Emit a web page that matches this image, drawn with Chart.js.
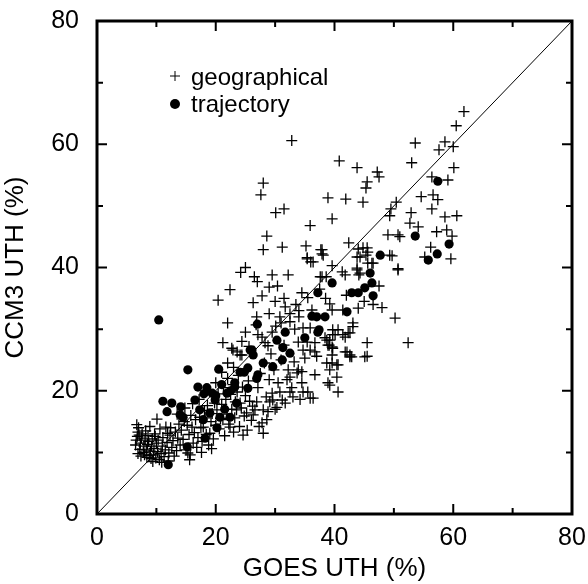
<!DOCTYPE html>
<html>
<head>
<meta charset="utf-8">
<script src="https://cdn.jsdelivr.net/npm/chart.js@4.4.1/dist/chart.umd.min.js"></script>
<style>
html,body{margin:0;padding:0;background:#fff;}
#wrap{width:588px;height:584px;}
</style>
</head>
<body>
<div id="wrap"><canvas id="c" width="588" height="584"></canvas></div>
<script>
// ---- data (GOES UTH %, CCM3 UTH %) ----
const seriesNames = ["geographical", "trajectory"];
const axisTicks = [0, 20, 40, 60, 80];
const minorTicks = [10, 30, 50, 70];
const xTitle = "GOES UTH (%)";
const yTitle = "CCM3 UTH (%)";
const oneToOne = [[0, 0], [80, 80]];

const geographical = [
[6.5,11.2],[6.6,12.0],[6.8,12.6],[6.9,13.3],[7.0,14.0],[6.7,14.5],[7.2,10.5],[7.3,11.5],[7.5,12.3],[7.6,13.0],
[7.8,10.0],[7.9,11.0],[8.0,9.6],[8.1,12.0],[8.3,10.4],[8.4,9.2],[8.5,11.3],[8.6,12.7],[8.8,9.5],[9.0,10.2],
[9.1,9.0],[9.2,11.0],[9.3,12.2],[9.5,9.6],[9.6,10.6],[9.7,13.0],[9.9,9.1],[10.0,11.5],[10.1,15.4],[10.2,10.1],
[10.3,12.0],[10.5,8.8],[10.6,13.8],[10.8,9.8],[11.0,11.0],[11.1,12.4],[11.3,9.3],[11.5,10.4],[11.6,14.1],[11.8,11.6],
[12.0,8.6],[12.1,9.9],[12.3,12.8],[12.4,14.0],[12.6,10.8],[12.8,11.9],[13.0,9.4],[13.2,13.3],[13.4,10.3],[13.6,12.3],
[7.4,9.4],[8.2,13.5],[8.9,14.2],[6.9,9.8],[9.4,8.5],[10.9,8.4],[11.9,13.1],[7.1,12.8],[8.7,11.8],[9.8,12.6],
[13.8,14.6],[14.0,11.2],[14.2,13.6],[14.5,12.1],[14.7,15.0],[15.0,10.4],[15.2,14.4],[15.3,9.9],[15.5,12.9],[15.7,9.6],
[15.8,16.0],[16.0,14.1],[16.2,11.5],[16.4,13.2],[16.6,15.3],[16.8,10.8],[17.0,12.4],[17.3,15.7],[17.5,14.0],[17.7,11.8],
[17.9,14.1],[18.1,16.8],[18.2,15.6],[18.4,12.9],[18.6,17.6],[18.8,11.2],[19.0,13.1],[19.2,15.0],[19.4,16.3],[19.6,12.2],
[19.8,18.0],[20.0,14.4],[13.5,16.2],[14.8,17.2],[16.1,17.9],[17.2,18.6],[15.6,8.8],[17.6,10.0],[19.3,10.6],
[20.2,16.9],[20.4,19.5],[20.6,13.8],[20.8,15.5],[21.0,17.8],[21.2,15.3],[21.3,20.5],[21.5,12.7],[21.7,18.6],[21.9,16.2],
[22.0,22.0],[22.2,14.6],[22.4,14.1],[22.5,19.4],[22.7,17.0],[22.9,21.0],[23.0,13.3],[23.2,15.6],[23.3,18.2],[23.5,16.9],
[23.6,19.8],[23.8,22.5],[24.0,14.2],[24.1,18.0],[24.3,17.2],[24.5,20.6],[24.6,12.8],[24.8,15.9],[25.0,19.2],[25.2,16.4],
[25.3,13.6],[25.5,21.6],[25.7,18.3],[26.0,15.2],[26.2,17.5],[26.3,16.1],[20.0,21.3],[21.0,23.0],[22.0,24.5],[23.0,23.8],
[24.1,25.8],[24.4,25.8],[23.6,26.3],[22.7,26.9],[22.9,26.6],[21.2,27.8],[22.0,31.0],[24.4,28.0],[25.0,29.5],[26.3,34.3],
[26.9,32.0],[26.8,30.7],[25.6,27.2],
[26.6,16.9],[26.9,18.2],[27.1,20.5],[27.3,14.2],[27.5,22.8],[27.8,14.8],[28.0,16.9],[28.0,13.1],[28.2,24.5],[28.5,19.0],
[28.6,15.3],[28.8,16.6],[29.0,21.8],[29.1,18.2],[29.3,26.0],[29.5,19.6],[29.6,18.5],[29.8,23.4],[30.0,17.0],[30.3,17.3],
[30.5,21.3],[30.8,19.8],[31.0,25.0],[31.2,18.5],[31.5,27.4],[31.7,18.0],[32.0,21.8],[32.2,23.4],[32.5,22.2],[32.5,19.8],
[32.8,20.5],[33.0,19.0],[33.2,24.7],[33.7,22.9],[33.9,23.4],[34.2,18.6],[34.5,23.1],[34.5,21.3],[34.7,19.8],[34.7,26.6],
[35.0,25.3],[27.1,29.1],[27.8,28.7],[28.3,27.8],[28.8,27.3],[29.5,29.5],[30.1,30.5],[30.8,32.0],[31.7,33.6],[32.5,31.2],
[33.3,30.0],[33.9,27.9],[34.0,33.0],[27.0,37.7],[27.8,35.4],[26.5,38.5],[29.0,36.8],[30.4,37.0],[25.0,40.0],[24.2,39.2],
[22.4,36.4],[20.4,34.7],[30.0,34.5],[31.5,35.0],[32.5,32.5],[33.5,34.0],[29.0,32.5],[31.0,31.0],[34.0,32.0],
[35.9,26.6],[36.7,26.3],[38.9,27.4],[39.6,27.1],[38.7,24.5],[40.4,24.2],[40.4,22.2],[38.9,21.3],[40.6,19.8],[36.7,22.6],
[35.5,19.8],[35.9,18.8],[36.4,18.8],[37.0,25.6],[39.2,23.4],[39.6,24.5],[39.6,25.8],[40.6,24.2],[39.2,20.9],[42.1,26.3],
[42.6,25.5],[42.9,25.5],[45.1,25.5],[45.5,27.8],[52.4,27.8],[41.8,26.3],[42.6,25.8],[45.5,25.6],[38.7,28.2],[40.1,29.1],
[41.4,29.1],[42.6,29.4],[38.4,28.6],[39.2,28.2],[39.1,27.4],[39.7,26.9],[36.7,27.8],[35.4,27.9],[41.8,28.7],[42.3,29.4],
[39.7,29.9],[39.7,29.1],[40.6,29.9],[43.1,31.0],[43.1,30.4],[34.7,30.2],[35.9,30.2],[50.2,31.8],[39.2,34.1],[39.6,33.1],
[44.0,33.4],[41.4,33.1],[36.2,33.1],[34.5,35.9],[35.5,35.1],[37.9,38.5],[43.8,39.6],[44.3,39.1],[41.3,39.3],[41.8,38.8],
[39.6,40.3],[50.7,39.6],[49.3,42.0],[49.0,45.3],[50.7,45.3],[44.3,41.7],[45.6,40.7],[46.3,40.7],[44.0,43.0],[44.8,43.2],
[45.6,42.5],[42.4,44.0],[35.4,41.4],[36.4,40.9],[37.9,42.9],[37.9,42.2],[35.2,43.5],[29.5,38.8],[32.2,38.8],[37.6,38.5],
[38.6,38.5],[35.4,41.6],[36.0,40.9],[31.2,43.3],[28.0,42.9],[28.6,45.1],[35.9,46.8],[39.6,47.9],[30.1,48.9],[31.5,49.5],
[27.6,51.8],[28.0,53.7],[38.9,51.3],[41.9,51.1],[44.8,50.6],[50.4,50.6],[49.5,49.5],[49.3,48.4],[45.5,53.9],[45.3,52.9],
[47.2,55.5],[47.5,54.7],[43.8,56.2],[40.8,57.3],[32.8,60.6],[43.8,39.9],[44.1,38.8],[37.7,42.9],[38.1,42.0],[49.7,41.9],
[46.5,40.7],[50.7,39.8],[45.5,43.2],[45.3,42.0],[43.8,41.7],[37.5,36.5],[38.5,35.0],[42.0,35.5],[45.0,34.5],[46.5,34.0],
[47.5,37.0],[48.0,33.5],
[61.8,65.3],[60.5,63.0],[53.6,60.2],[58.6,60.4],[57.6,59.1],[60.0,59.6],[53.0,57.0],[60.1,56.2],[56.4,54.7],[59.1,54.2],
[54.6,51.5],[56.6,51.8],[57.4,51.0],[56.4,49.5],[52.9,48.9],[58.6,48.2],[60.6,48.4],[52.7,47.2],[54.1,46.6],[57.2,45.8],
[58.9,46.1],[59.8,45.1],[56.2,43.3],[55.2,41.7],[59.6,41.4],[51.0,45.0]
];

const trajectory = [
[10.4,31.5],[15.3,23.4],[20.5,23.5],[11.1,18.3],[12.6,18.0],[14.1,17.4],[11.8,16.6],[14.0,16.1],[17.0,20.6],[18.5,20.5],
[16.5,18.5],[17.3,16.9],[15.2,10.9],[18.2,12.3],[12.0,8.0],[20.2,14.0],[19.0,16.4],[20.7,15.7],[22.4,15.7],[17.9,15.3],
[19.4,19.6],[19.9,18.5],[21.9,19.6],[14.5,15.7],[24.1,23.0],[25.4,23.7],[26.1,26.6],[26.9,22.0],[25.4,20.4],[23.2,20.6],
[25.8,26.6],[26.3,25.8],[28.0,24.5],[29.6,23.9],[27.1,22.6],[24.8,23.0],[23.2,21.3],[31.7,29.5],[35.0,28.6],[30.3,28.2],
[31.3,27.0],[32.5,26.1],[31.2,25.0],[37.2,29.5],[53.6,45.1],[47.7,42.0],[55.8,41.2],[57.3,42.2],[46.0,39.1],[39.6,37.5],
[46.3,37.5],[45.1,36.7],[44.0,35.9],[42.9,35.9],[46.5,35.4],[37.2,35.9],[42.1,32.8],[36.2,32.1],[37.0,32.0],[38.4,32.0],
[37.4,29.9],[57.4,54.0],[59.3,43.8],[27.0,30.8],[21.0,21.0],[22.5,20.0],[20.0,19.2],[18.0,19.5],[23.5,18.0],[21.5,17.0]
];

const FONT = "'Liberation Sans', Arial, Helvetica, sans-serif";
const toXY = a => a.map(p => ({x: p[0], y: p[1]}));

// box + inward ticks + in-plot legend
const framePlugin = {
  id: 'frame',
  afterDatasetsDraw(chart) {
    const {ctx, chartArea: a, scales: {x, y}} = chart;
    ctx.save();
    ctx.strokeStyle = '#000';
    ctx.lineCap = 'butt';
    ctx.lineWidth = 2;
    const tick = (v, len) => {
      const px = x.getPixelForValue(v), py = y.getPixelForValue(v);
      ctx.beginPath();
      ctx.moveTo(px, a.bottom); ctx.lineTo(px, a.bottom - len);
      ctx.moveTo(px, a.top); ctx.lineTo(px, a.top + len);
      ctx.moveTo(a.left, py); ctx.lineTo(a.left + len, py);
      ctx.moveTo(a.right, py); ctx.lineTo(a.right - len, py);
      ctx.stroke();
    };
    axisTicks.forEach(v => tick(v, 10));
    minorTicks.forEach(v => tick(v, 6));
    ctx.lineWidth = 3;
    ctx.strokeRect(a.left, a.top, a.right - a.left, a.bottom - a.top);
    // legend
    ctx.fillStyle = '#000';
    ctx.lineWidth = 1;
    const lx = 175, ly1 = 76, ly2 = 104;
    ctx.beginPath();
    ctx.moveTo(lx - 5, ly1); ctx.lineTo(lx + 5, ly1);
    ctx.moveTo(lx, ly1 - 5); ctx.lineTo(lx, ly1 + 5);
    ctx.stroke();
    ctx.beginPath(); ctx.arc(lx, ly2, 5, 0, Math.PI * 2); ctx.fill();
    ctx.font = '24px ' + FONT;
    ctx.textBaseline = 'alphabetic';
    ctx.textAlign = 'left';
    ctx.fillText(seriesNames[0], 191, 85);
    ctx.fillText(seriesNames[1], 191, 112);
    ctx.restore();
  }
};

new Chart(document.getElementById('c'), {
  type: 'scatter',
  data: {
    datasets: [
      {
        label: 'y = x', type: 'line', data: toXY(oneToOne),
        borderColor: '#000', borderWidth: 1, pointRadius: 0, fill: false, order: 3
      },
      {
        label: seriesNames[0], data: toXY(geographical),
        pointStyle: 'cross', pointRadius: 5.5, borderColor: '#000', borderWidth: 1.3,
        backgroundColor: '#000', order: 2
      },
      {
        label: seriesNames[1], data: toXY(trajectory),
        pointStyle: 'circle', pointRadius: 4.6, borderColor: '#000', borderWidth: 0,
        backgroundColor: '#000', order: 1
      }
    ]
  },
  options: {
    responsive: false,
    animation: false,
    devicePixelRatio: 1,
    layout: {padding: {top: 21, right: 16, left: 0, bottom: 0}},
    plugins: {legend: {display: false}, tooltip: {enabled: false}},
    scales: {
      x: {
        type: 'linear', min: 0, max: 80,
        afterFit: s => { s.height = 70; s.paddingLeft = 0; s.paddingRight = 0; },
        afterBuildTicks: s => { s.ticks = axisTicks.map(v => ({value: v})); },
        grid: {display: false, drawTicks: false},
        border: {display: false},
        ticks: {color: '#000', font: {family: FONT, size: 25}, padding: 9, maxRotation: 0},
        title: {display: true, text: xTitle, color: '#000', font: {family: FONT, size: 26}, padding: {top: 0, bottom: 0}}
      },
      y: {
        type: 'linear', min: 0, max: 80,
        afterFit: s => { s.width = 97; s.paddingTop = 0; s.paddingBottom = 0; },
        afterBuildTicks: s => { s.ticks = axisTicks.map(v => ({value: v})); },
        grid: {display: false, drawTicks: false},
        border: {display: false},
        ticks: {color: '#000', font: {family: FONT, size: 25}, padding: 18},
        title: {display: true, text: yTitle, color: '#000', font: {family: FONT, size: 26}, padding: {top: 0, bottom: 0}}
      }
    }
  },
  plugins: [framePlugin]
});
</script>
</body>
</html>
